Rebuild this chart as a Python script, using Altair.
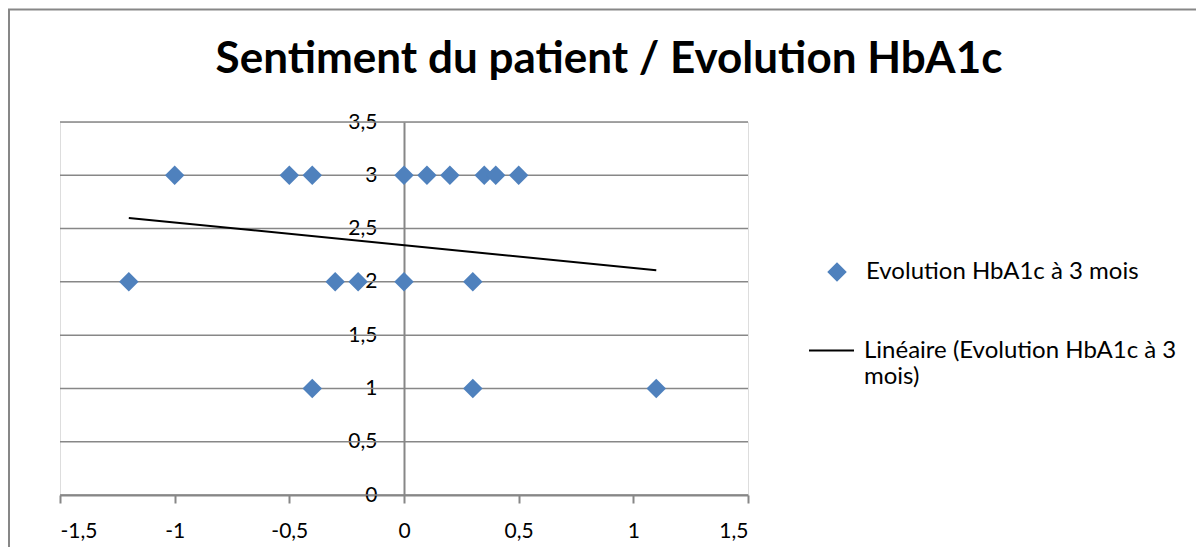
import altair as alt
import pandas as pd

# Data
evolution = [-1.0, -0.5, -0.4, 0.0, 0.1, 0.2, 0.35, 0.4, 0.5,
             -1.2, -0.3, -0.2, 0.0, 0.3,
             -0.4, 0.3, 1.1]
sentiment = [3, 3, 3, 3, 3, 3, 3, 3, 3,
             2, 2, 2, 2, 2,
             1, 1, 1]
x_ticks = [-1.5, -1.0, -0.5, 0.0, 0.5, 1.0, 1.5]
y_ticks = [0, 0.5, 1, 1.5, 2, 2.5, 3, 3.5]
serie_points = "Evolution HbA1c à 3 mois"
serie_trend = "Linéaire (Evolution HbA1c à 3 mois)"
title_text = "Sentiment du patient / Evolution HbA1c"

df = pd.DataFrame({"evolution": evolution, "sentiment": sentiment,
                   "serie": [serie_points] * len(evolution)})
grid_df = pd.DataFrame({"tick": y_ticks})
frame_df = pd.DataFrame({"k": [0]})

W, H = 688, 373
FONT = "Lato"
GRAY = "#878787"
comma = "replace('' + datum.value, '.', ',')"

xscale = alt.Scale(domain=[-1.5, 1.5], nice=False, zero=False)
yscale = alt.Scale(domain=[0, 3.5], nice=False)

xaxis = alt.Axis(values=x_ticks, grid=False, title=None,
                 domainColor=GRAY, domainWidth=2,
                 tickColor=GRAY, tickWidth=2, tickSize=8,
                 labelPadding=17, labelFont=FONT, labelFontSize=21,
                 labelColor="black", labelExpr=comma)
yaxis = alt.Axis(values=y_ticks, grid=False, title=None,
                 offset=-W / 2, ticks=False, tickSize=0,
                 domainColor=GRAY, domainWidth=2,
                 labelPadding=27, labelFont=FONT, labelFontSize=21,
                 labelColor="black", labelExpr=comma)

frame = alt.Chart(frame_df).mark_rect(
    fillOpacity=0, stroke=GRAY, strokeWidth=2
).encode(
    x=alt.value(-51), x2=alt.value(2000),
    y=alt.value(-112.5), y2=alt.value(1000)
)

grid = alt.Chart(grid_df).mark_rule(color=GRAY, strokeWidth=1.5).encode(
    y=alt.Y("tick:Q", scale=yscale, axis=yaxis),
    x=alt.XDatum(-1.5, type="quantitative", scale=xscale, axis=xaxis),
    x2=alt.X2Datum(1.5)
)

trend = alt.Chart(df).transform_regression(
    "evolution", "sentiment"
).transform_calculate(
    serie=f"'{serie_trend}'"
).mark_line(strokeWidth=2).encode(
    x=alt.X("evolution:Q", scale=xscale, axis=xaxis),
    y=alt.Y("sentiment:Q", scale=yscale, axis=yaxis),
    stroke=alt.Stroke("serie:N",
                      scale=alt.Scale(domain=[serie_trend], range=["black"]),
                      legend=alt.Legend(
                          title=None, orient="none", legendX=748, legendY=205,
                          symbolType="stroke", symbolSize=2025, symbolStrokeWidth=2,
                          labelOffset=9, labelFont=FONT, labelFontSize=24,
                          labelColor="black", labelLimit=500, padding=0,
                          labelBaseline="middle",
                          labelExpr="['Linéaire (Evolution HbA1c à 3', 'mois)']"))
)

points = alt.Chart(df).mark_point(
    shape="diamond", filled=True, size=380, opacity=1, strokeWidth=0
).encode(
    x=alt.X("evolution:Q", scale=xscale, axis=xaxis),
    y=alt.Y("sentiment:Q", scale=yscale, axis=yaxis),
    fill=alt.Fill("serie:N",
                  scale=alt.Scale(domain=[serie_points], range=["#4F81BD"]),
                  legend=alt.Legend(
                      title=None, orient="none", legendX=765, legendY=138,
                      symbolType="diamond", symbolSize=380, symbolStrokeWidth=0,
                      labelOffset=17, labelFont=FONT, labelFontSize=24,
                      labelColor="black", labelLimit=500, padding=0))
)

chart = alt.layer(frame, grid, trend, points).resolve_scale(
    fill="independent", stroke="independent"
).properties(
    width=W, height=H,
    autosize=alt.AutoSizeParams(type="none"),
    padding={"left": 52, "top": 114, "right": 448, "bottom": 52},
    title=alt.Title(title_text, font=FONT, fontSize=44, fontWeight="bold",
                    color="black", anchor="middle", frame="group", dx=205,
                    offset=-108, baseline="alphabetic")
).configure_view(stroke=None).configure(background="white")

chart.save("out.html", embed_options={"renderer": "svg", "actions": False})
